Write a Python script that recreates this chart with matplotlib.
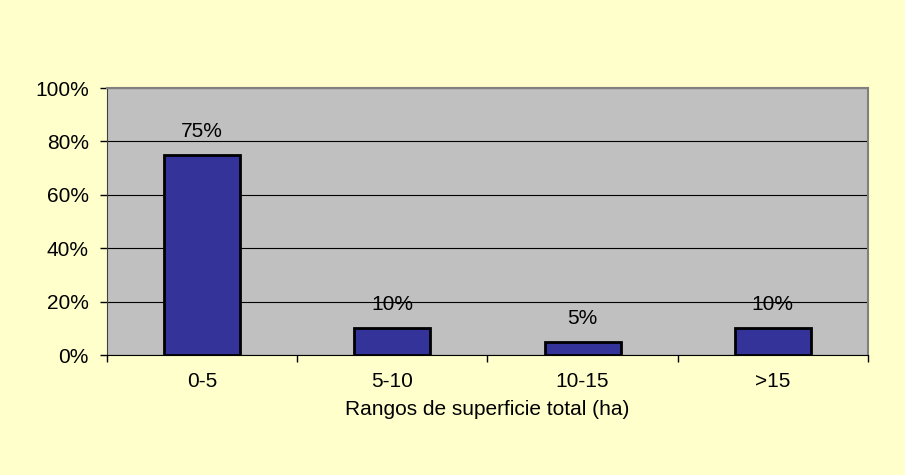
import numpy as np
import matplotlib.pyplot as plt
from matplotlib.ticker import FixedLocator, FuncFormatter

categories = ['0-5', '5-10', '10-15', '>15']
values = [75, 10, 5, 10]
yticks = [0, 20, 40, 60, 80, 100]

plt.rcParams['font.family'] = ['Liberation Sans', 'DejaVu Sans']
fs = 15

fig = plt.figure(figsize=(9.05, 4.75), dpi=100, facecolor='#FFFFCC')
ax = fig.add_axes([0.1182, 0.2526, 0.8408, 0.5621])
ax.set_facecolor('#C0C0C0')

x = np.arange(len(categories))
ax.bar(x, values, width=0.4, color='#333399', edgecolor='black', linewidth=2, zorder=3)
for xi, v in zip(x, values):
    ax.annotate('%d%%' % v, (xi, v), xytext=(0, 10), textcoords='offset points',
                ha='center', va='bottom', fontsize=fs, zorder=4)

ax.set_xlim(-0.5, len(categories) - 0.5)
ax.set_ylim(0, 100)
ax.set_yticks(yticks)
ax.yaxis.set_major_formatter(FuncFormatter(lambda v, p: '%d%%' % v))
ax.yaxis.grid(True, color='black', linewidth=0.8, zorder=1)

ax.set_xticks(x)
ax.set_xticklabels(categories)
ax.xaxis.set_minor_locator(FixedLocator(np.arange(-0.5, len(categories), 1.0)))
ax.tick_params(axis='x', which='major', length=0, pad=12, labelsize=fs)
ax.tick_params(axis='x', which='minor', length=5, width=1, color='black')
ax.tick_params(axis='y', length=5, width=1, labelsize=fs, pad=8)
ax.set_xlabel('Rangos de superficie total (ha)', fontsize=fs, labelpad=7)

for s in ['top', 'right']:
    ax.spines[s].set_color('#808080')
    ax.spines[s].set_linewidth(1.5)
ax.spines['left'].set_color('#404040')
ax.spines['bottom'].set_color('black')

fig.savefig('out.png', dpi=100, facecolor=fig.get_facecolor())
